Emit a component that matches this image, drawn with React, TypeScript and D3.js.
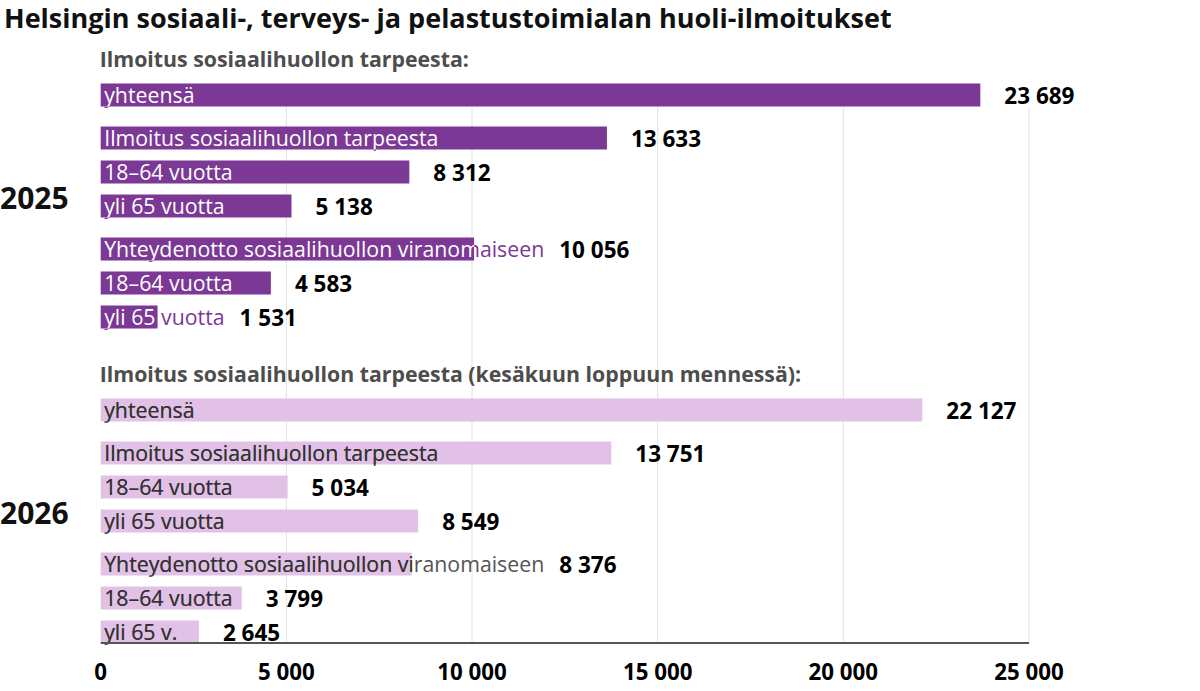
import { useEffect, useRef } from "react";
import * as d3 from "d3";

const title = "Helsingin sosiaali-, terveys- ja pelastustoimialan huoli-ilmoitukset";

const years = ["2025", "2026"];
const headers = [
  "Ilmoitus sosiaalihuollon tarpeesta:",
  "Ilmoitus sosiaalihuollon tarpeesta (kesäkuun loppuun mennessä):",
];

const categories2025 = [
  "yhteensä",
  "Ilmoitus sosiaalihuollon tarpeesta",
  "18–64 vuotta",
  "yli 65 vuotta",
  "Yhteydenotto sosiaalihuollon viranomaiseen",
  "18–64 vuotta",
  "yli 65 vuotta",
];
const values2025 = [23689, 13633, 8312, 5138, 10056, 4583, 1531];

const categories2026 = [
  "yhteensä",
  "Ilmoitus sosiaalihuollon tarpeesta",
  "18–64 vuotta",
  "yli 65 vuotta",
  "Yhteydenotto sosiaalihuollon viranomaiseen",
  "18–64 vuotta",
  "yli 65 v.",
];
const values2026 = [22127, 13751, 5034, 8549, 8376, 3799, 2645];

// which sub block each row belongs to (total / first / second)
const subgroups = [0, 1, 1, 1, 2, 2, 2];

const xTicks = [0, 5000, 10000, 15000, 20000, 25000];

const FONT = "'Open Sans', sans-serif";

export default function App() {
  const ref = useRef<SVGSVGElement>(null);

  useEffect(() => {
    const svg = d3.select(ref.current);
    svg.selectAll("*").remove();

    const width = 1200;
    const margin = { left: 100.7, right: 171 };
    const axisY = 643;
    const rowStep = 34;
    const subGap = 9;
    const barH = 23;
    const yearStarts = [95, 410];

    const x = d3
      .scaleLinear()
      .domain([0, 25000])
      .range([margin.left, width - margin.right]);

    const fmt = (v: number) => d3.format(",")(v).replace(/,/g, " ");

    const colors = [
      { bar: "#7b3995", inner: "#ffffff", outer: "#7b3995" },
      { bar: "#e2c1e7", inner: "#333333", outer: "#555555" },
    ];

    // title
    svg
      .append("text")
      .attr("x", 4)
      .attr("y", 28)
      .attr("font-family", FONT)
      .attr("font-weight", 700)
      .attr("font-size", 27)
      .attr("fill", "#111")
      .text(title);

    // gridlines
    svg
      .append("g")
      .selectAll("line")
      .data(xTicks.slice(1))
      .join("line")
      .attr("x1", (d) => x(d))
      .attr("x2", (d) => x(d))
      .attr("y1", 107)
      .attr("y2", axisY)
      .attr("stroke", "#e2e2e2")
      .attr("stroke-width", 1);

    const defs = svg.append("defs");

    const groups = [
      { cats: categories2025, vals: values2025 },
      { cats: categories2026, vals: values2026 },
    ];

    groups.forEach((grp, gi) => {
      const start = yearStarts[gi];
      const c = colors[gi];
      const yRow = (i: number) => start + i * rowStep + subgroups[i] * subGap;

      // header
      svg
        .append("text")
        .attr("x", margin.left - 1)
        .attr("y", start - 28)
        .attr("font-family", FONT)
        .attr("font-weight", 700)
        .attr("font-size", 21.3)
        .attr("fill", "#4d4d4d")
        .text(headers[gi]);

      // year label
      const mid = (yRow(0) + yRow(grp.vals.length - 1)) / 2;
      svg
        .append("text")
        .attr("x", 0)
        .attr("y", mid + 3)
        .attr("font-family", FONT)
        .attr("font-weight", 700)
        .attr("font-size", 30)
        .attr("fill", "#111")
        .text(years[gi]);

      grp.vals.forEach((v, i) => {
        const cy = yRow(i);
        const g = svg.append("g");
        const clipId = `clip-${gi}-${i}`;
        defs
          .append("clipPath")
          .attr("id", clipId)
          .append("rect")
          .attr("x", x(0))
          .attr("y", cy - barH / 2)
          .attr("width", x(v) - x(0))
          .attr("height", barH);

        g.append("rect")
          .attr("x", x(0))
          .attr("y", cy - barH / 2)
          .attr("width", x(v) - x(0))
          .attr("height", barH)
          .attr("fill", c.bar);

        const outer = g
          .append("text")
          .attr("x", x(0) + 3.5)
          .attr("y", cy + 7.5)
          .attr("font-family", FONT)
          .attr("font-size", 21.3)
          .attr("fill", c.outer)
          .text(grp.cats[i]);

        g.append("text")
          .attr("x", x(0) + 3.5)
          .attr("y", cy + 7.5)
          .attr("font-family", FONT)
          .attr("font-size", 21.3)
          .attr("fill", c.inner)
          .attr("clip-path", `url(#${clipId})`)
          .text(grp.cats[i]);

        const textEnd =
          x(0) + 3.5 + (outer.node() as SVGTextElement).getComputedTextLength();
        const labelX = Math.max(x(v) + 24, textEnd + 15);

        g.append("text")
          .attr("x", labelX)
          .attr("y", cy + 8.5)
          .attr("font-family", FONT)
          .attr("font-weight", 700)
          .attr("font-size", 22.5)
          .attr("fill", "#000")
          .text(fmt(v));
      });
    });

    // axis
    svg
      .append("line")
      .attr("x1", x(0))
      .attr("x2", x(25000))
      .attr("y1", axisY)
      .attr("y2", axisY)
      .attr("stroke", "#555")
      .attr("stroke-width", 2);

    svg
      .append("g")
      .selectAll("text")
      .data(xTicks)
      .join("text")
      .attr("x", (d) => x(d))
      .attr("y", 680)
      .attr("text-anchor", "middle")
      .attr("font-family", FONT)
      .attr("font-weight", 700)
      .attr("font-size", 22.3)
      .attr("fill", "#000")
      .text((d) => fmt(d));
  }, []);

  return (
    <svg
      ref={ref}
      width={1200}
      height={691}
      style={{ position: "absolute", left: 0, top: 0, background: "#fff" }}
    />
  );
}
